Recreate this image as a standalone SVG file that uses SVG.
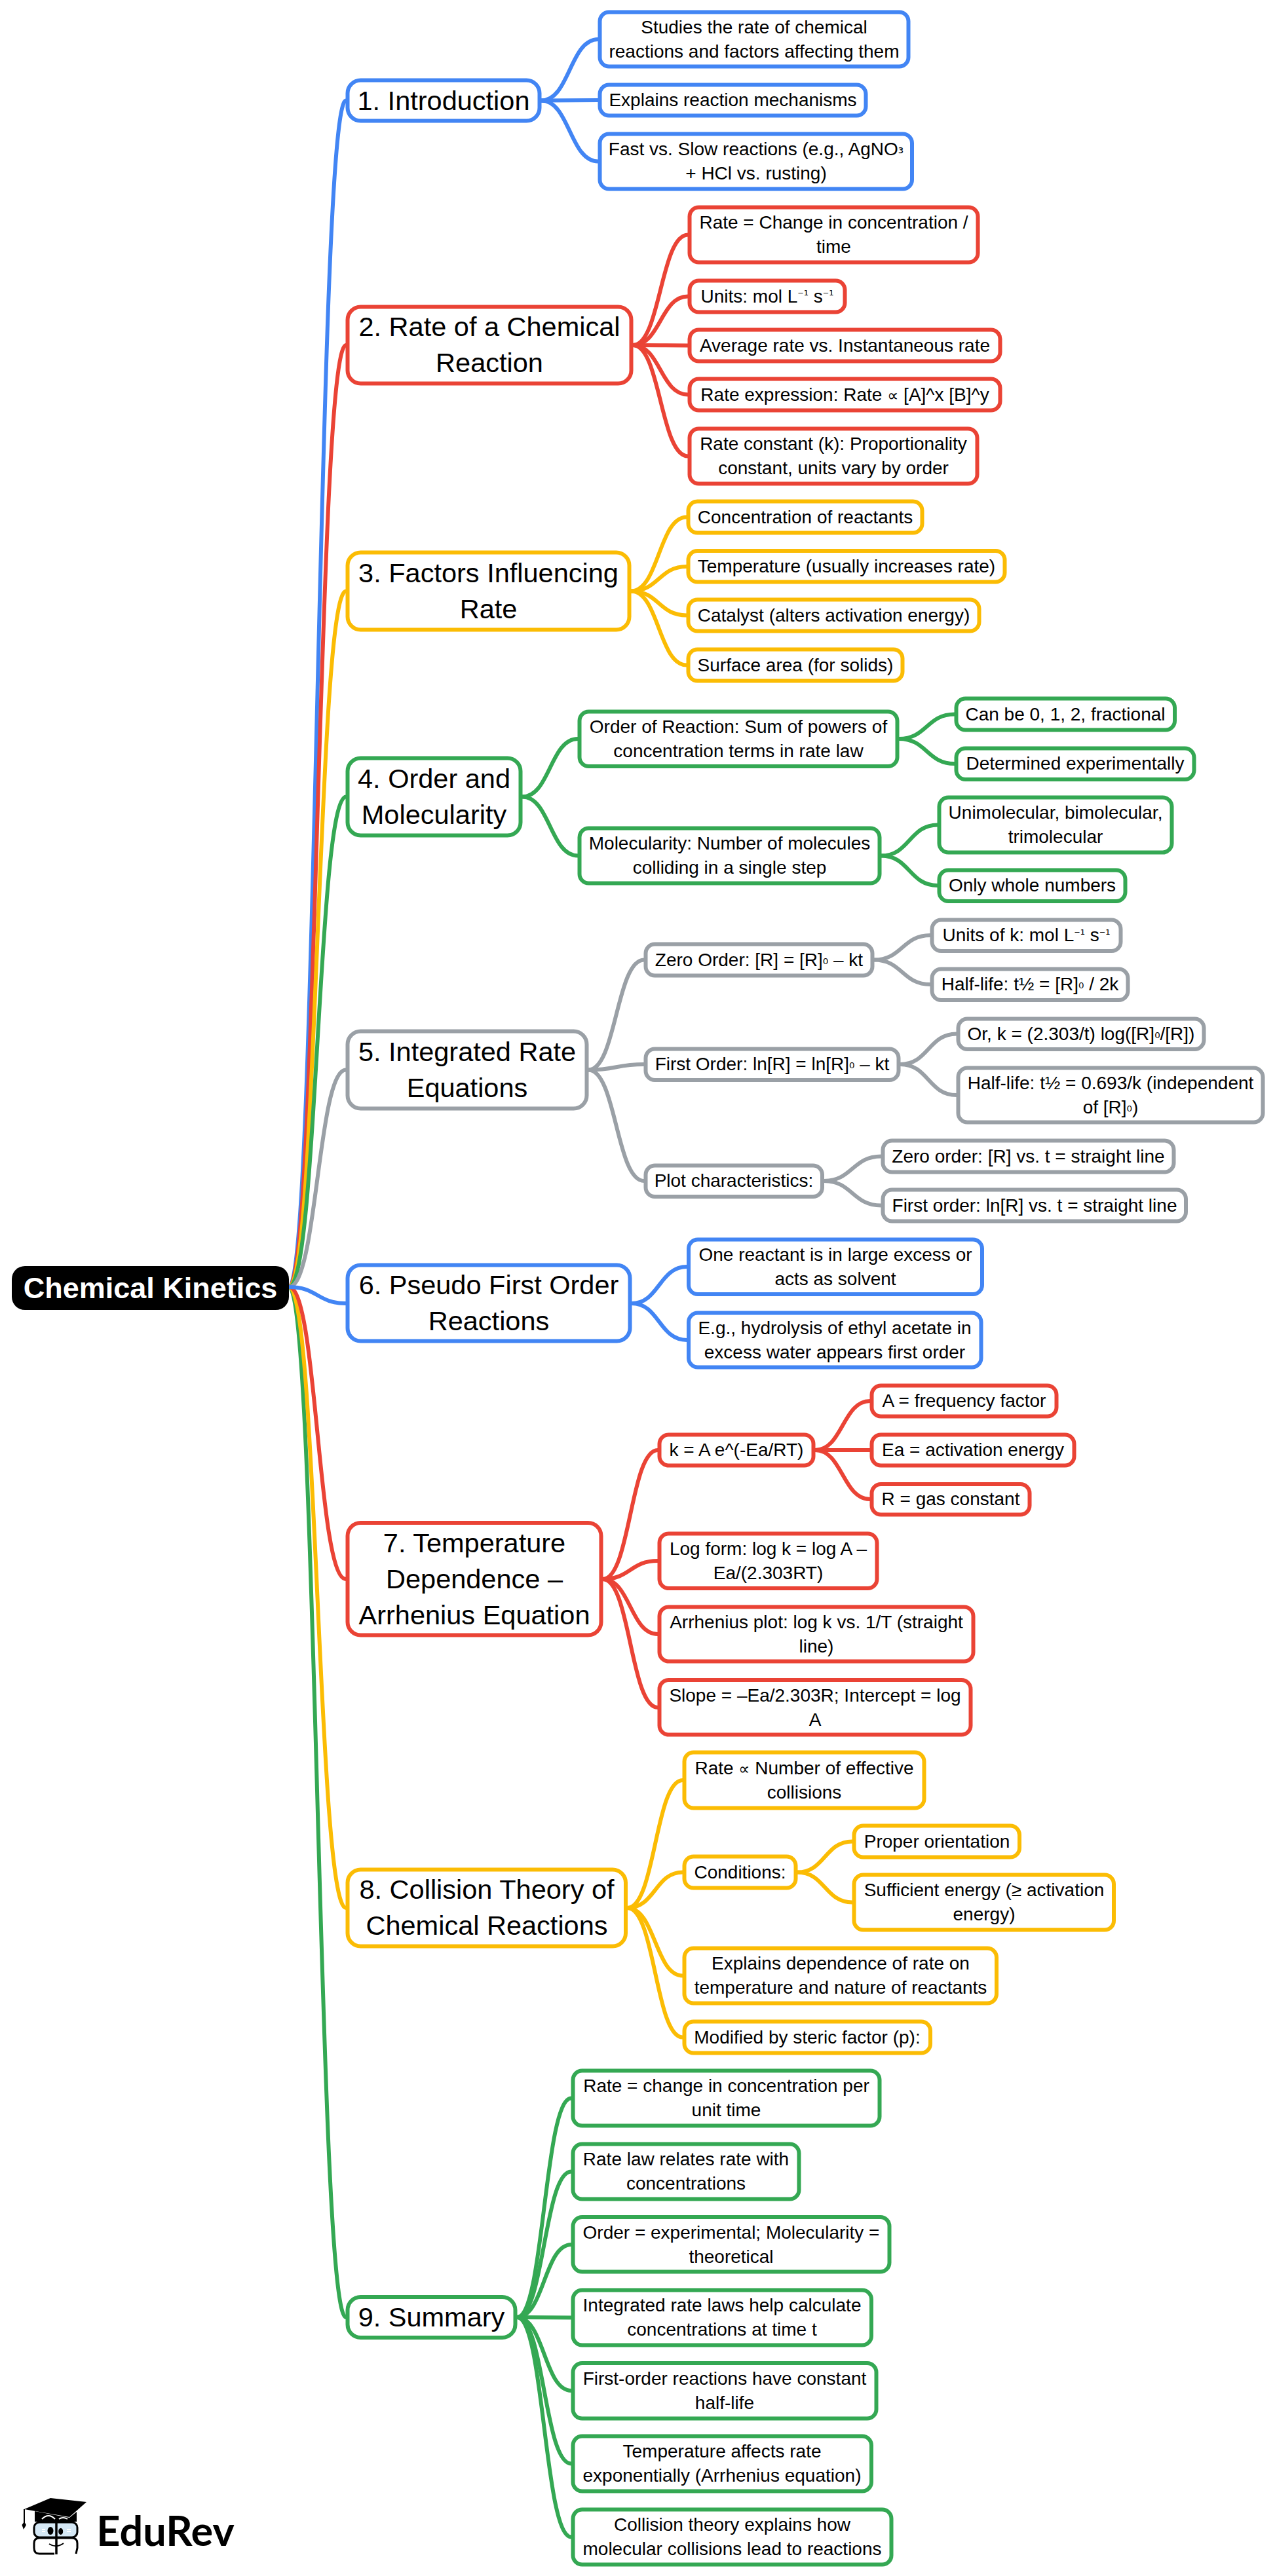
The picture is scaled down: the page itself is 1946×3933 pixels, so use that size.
<svg xmlns="http://www.w3.org/2000/svg" width="1946" height="3933" viewBox="0 0 1946 3933">
<style>
text{font-family:"Liberation Sans",Arial,"DejaVu Sans",sans-serif;fill:#000;text-anchor:middle}
.m{font-size:41.500px}
.s{font-size:28px}
.sp{font-family:"DejaVu Sans",sans-serif;font-size:18px}
.sb{font-family:"DejaVu Sans",sans-serif;font-size:21px}
.pr{font-family:"DejaVu Sans",sans-serif;font-size:24px}
.n rect{fill:#fff;stroke-width:6}
.l path{fill:none;stroke-width:6;stroke-linecap:round}
.blue rect,.blue path{stroke:#4285F4}
.red rect,.red path{stroke:#EA4335}
.yel rect,.yel path{stroke:#FBBC04}
.grn rect,.grn path{stroke:#34A853}
.gry rect,.gry path{stroke:#9AA0A6}
</style>
<g id="connectors" class="l">
<g class="blue"><path d="M441 1965C484.500 1965 484.500 153.500 528 153.500"/></g>
<g class="red"><path d="M441 1965C484.500 1965 484.500 527 528 527"/></g>
<g class="yel"><path d="M441 1965C484.500 1965 484.500 902.500 528 902.500"/></g>
<g class="grn"><path d="M441 1965C484.500 1965 484.500 1216.500 528 1216.500"/></g>
<g class="gry"><path d="M441 1965C484.500 1965 484.500 1633.500 528 1633.500"/></g>
<g class="grn"><path d="M441 1965C484.500 1965 484.500 3538 528 3538"/></g>
<g class="yel"><path d="M441 1965C484.500 1965 484.500 2913 528 2913"/></g>
<g class="red"><path d="M441 1965C484.500 1965 484.500 2411 528 2411"/></g>
<g class="blue"><path d="M441 1965C484.500 1965 484.500 1990 528 1990"/></g>
<g class="blue">
<path d="M826 153.500C869.500 153.500 869.500 60 913 60"/>
<path d="M826 153.500C869.500 153.500 869.500 153 913 153"/>
<path d="M826 153.500C869.500 153.500 869.500 246.500 913 246.500"/>
<path d="M964 1990C1006 1990 1006 1934 1048.500 1934"/>
<path d="M964 1990C1006 1990 1006 2046 1048.500 2046"/>
</g>
<g class="red">
<path d="M966 527C1008 527 1008 358.500 1050 358.500"/>
<path d="M966 527C1008 527 1008 452.500 1050 452.500"/>
<path d="M966 527C1008 527 1008 527.500 1050 527.500"/>
<path d="M966 527C1008 527 1008 602.500 1050 602.500"/>
<path d="M966 527C1008 527 1008 696.500 1050 696.500"/>
<path d="M920 2411C962 2411 962 2214 1004 2214"/>
<path d="M920 2411C962 2411 962 2383 1004 2383"/>
<path d="M920 2411C962 2411 962 2495 1004 2495"/>
<path d="M920 2411C962 2411 962 2607 1004 2607"/>
<path d="M1244 2214C1286 2214 1286 2139 1328 2139"/>
<path d="M1244 2214C1286 2214 1286 2214 1328 2214"/>
<path d="M1244 2214C1286 2214 1286 2289 1328 2289"/>
</g>
<g class="yel">
<path d="M963 902.500C1005.500 902.500 1005.500 789.500 1048 789.500"/>
<path d="M963 902.500C1005.500 902.500 1005.500 865 1048 865"/>
<path d="M963 902.500C1005.500 902.500 1005.500 939.500 1048 939.500"/>
<path d="M963 902.500C1005.500 902.500 1005.500 1015.500 1048 1015.500"/>
<path d="M957.500 2913C1000 2913 1000 2718 1042 2718"/>
<path d="M957.500 2913C1000 2913 1000 2858.500 1042 2858.500"/>
<path d="M957.500 2913C1000 2913 1000 3016.500 1042 3016.500"/>
<path d="M957.500 2913C1000 2913 1000 3110.500 1042 3110.500"/>
<path d="M1217 2858.500C1259 2858.500 1259 2811.500 1301 2811.500"/>
<path d="M1217 2858.500C1259 2858.500 1259 2904.500 1301 2904.500"/>
</g>
<g class="grn">
<path d="M797 1216.500C839.500 1216.500 839.500 1128 882 1128"/>
<path d="M797 1216.500C839.500 1216.500 839.500 1306.500 882 1306.500"/>
<path d="M1372 1128C1414.500 1128 1414.500 1090.500 1457 1090.500"/>
<path d="M1372 1128C1414.500 1128 1414.500 1166 1457 1166"/>
<path d="M1345 1306.500C1388 1306.500 1388 1259.500 1431 1259.500"/>
<path d="M1345 1306.500C1388 1306.500 1388 1352 1431 1352"/>
<path d="M789 3538C830.500 3538 830.500 3203.500 872 3203.500"/>
<path d="M789 3538C830.500 3538 830.500 3315.500 872 3315.500"/>
<path d="M789 3538C830.500 3538 830.500 3427 872 3427"/>
<path d="M789 3538C830.500 3538 830.500 3538.500 872 3538.500"/>
<path d="M789 3538C830.500 3538 830.500 3650 872 3650"/>
<path d="M789 3538C830.500 3538 830.500 3761.500 872 3761.500"/>
<path d="M789 3538C830.500 3538 830.500 3873.500 872 3873.500"/>
</g>
<g class="gry">
<path d="M898 1633.500C940.500 1633.500 940.500 1465.500 983 1465.500"/>
<path d="M898 1633.500C940.500 1633.500 940.500 1625 983 1625"/>
<path d="M898 1633.500C940.500 1633.500 940.500 1803 983 1803"/>
<path d="M1334 1465.500C1377 1465.500 1377 1428 1420 1428"/>
<path d="M1334 1465.500C1377 1465.500 1377 1503 1420 1503"/>
<path d="M1374 1625C1417 1625 1417 1578.500 1460 1578.500"/>
<path d="M1374 1625C1417 1625 1417 1672 1460 1672"/>
<path d="M1257.500 1803C1301 1803 1301 1765.500 1345 1765.500"/>
<path d="M1257.500 1803C1301 1803 1301 1840.500 1345 1840.500"/>
</g>
</g>
<g id="root"><rect x="18" y="1933" width="423" height="67" rx="20" fill="#000"/><text x="229.500" y="1982" font-size="45" font-weight="700" style="fill:#fff">Chemical Kinetics</text></g>
<g id="n1" class="n blue"><rect x="530.500" y="122.500" width="293" height="62" rx="20"/><text class="m" x="677" y="167.500">1. Introduction</text></g>
<g id="n1a" class="n blue"><rect x="915.500" y="18.500" width="471" height="83" rx="14"/><text class="s" x="1151" y="50.500">Studies the rate of chemical</text><text class="s" x="1151" y="87.500">reactions and factors affecting them</text></g>
<g id="n1b" class="n blue"><rect x="915.500" y="129.500" width="406" height="47" rx="14"/><text class="s" x="1118.500" y="162">Explains reaction mechanisms</text></g>
<g id="n1c" class="n blue"><rect x="915.500" y="204.500" width="476.500" height="84" rx="14"/><text class="s" x="1154" y="237">Fast vs. Slow reactions (e.g., AgNO<tspan class="sb" dy="-3">₃</tspan></text><text class="s" x="1154" y="274">+ HCl vs. rusting)</text></g>
<g id="n2" class="n red"><rect x="530.500" y="468.500" width="433" height="117" rx="20"/><text class="m" x="747" y="513">2. Rate of a Chemical</text><text class="m" x="747" y="568">Reaction</text></g>
<g id="n2a" class="n red"><rect x="1052.500" y="316.500" width="440" height="84" rx="14"/><text class="s" x="1272.500" y="349">Rate = Change in concentration /</text><text class="s" x="1272.500" y="386">time</text></g>
<g id="n2b" class="n red"><rect x="1052.500" y="428.500" width="237" height="48" rx="14"/><text class="s" x="1171" y="461.500">Units: mol L<tspan class="sp" dy="-4.500">⁻¹</tspan><tspan dy="4.500"> s</tspan><tspan class="sp" dy="-4.500">⁻¹</tspan></text></g>
<g id="n2c" class="n red"><rect x="1052.500" y="503.500" width="474" height="48" rx="14"/><text class="s" x="1289.500" y="536.500">Average rate vs. Instantaneous rate</text></g>
<g id="n2d" class="n red"><rect x="1052.500" y="578.500" width="474" height="48" rx="14"/><text class="s" x="1289.500" y="611.500">Rate expression: Rate <tspan class="pr">∝</tspan> [A]^x [B]^y</text></g>
<g id="n2e" class="n red"><rect x="1052.500" y="654.500" width="439" height="84" rx="14"/><text class="s" x="1272" y="687">Rate constant (k): Proportionality</text><text class="s" x="1272" y="724">constant, units vary by order</text></g>
<g id="n3" class="n yel"><rect x="530.500" y="843.500" width="430" height="118" rx="20"/><text class="m" x="745.500" y="888.500">3. Factors Influencing</text><text class="m" x="745.500" y="943.500">Rate</text></g>
<g id="n3a" class="n yel"><rect x="1050.500" y="765.500" width="357" height="48" rx="14"/><text class="s" x="1229" y="798.500">Concentration of reactants</text></g>
<g id="n3b" class="n yel"><rect x="1050.500" y="841" width="483" height="47.500" rx="14"/><text class="s" x="1292" y="874">Temperature (usually increases rate)</text></g>
<g id="n3c" class="n yel"><rect x="1050.500" y="915.500" width="444" height="48" rx="14"/><text class="s" x="1272.500" y="948.500">Catalyst (alters activation energy)</text></g>
<g id="n3d" class="n yel"><rect x="1050.500" y="991.500" width="327" height="48" rx="14"/><text class="s" x="1214" y="1024.500">Surface area (for solids)</text></g>
<g id="n4" class="n grn"><rect x="530.500" y="1157.500" width="264" height="118" rx="20"/><text class="m" x="662.500" y="1202.500">4. Order and</text><text class="m" x="662.500" y="1257.500">Molecularity</text></g>
<g id="n4a" class="n grn"><rect x="884.500" y="1086.500" width="485" height="83.500" rx="14"/><text class="s" x="1127" y="1118.500">Order of Reaction: Sum of powers of</text><text class="s" x="1127" y="1155.500">concentration terms in rate law</text></g>
<g id="n4b" class="n grn"><rect x="884.500" y="1264.500" width="458" height="84" rx="14"/><text class="s" x="1113.500" y="1297">Molecularity: Number of molecules</text><text class="s" x="1113.500" y="1334">colliding in a single step</text></g>
<g id="n4c" class="n grn"><rect x="1459.500" y="1066.500" width="333.500" height="48" rx="14"/><text class="s" x="1626" y="1099.500">Can be 0, 1, 2, fractional</text></g>
<g id="n4d" class="n grn"><rect x="1459.500" y="1142.500" width="363" height="47.500" rx="14"/><text class="s" x="1641" y="1175">Determined experimentally</text></g>
<g id="n4e" class="n grn"><rect x="1433.500" y="1217.500" width="355" height="84" rx="14"/><text class="s" x="1611" y="1250">Unimolecular, bimolecular,</text><text class="s" x="1611" y="1287">trimolecular</text></g>
<g id="n4f" class="n grn"><rect x="1433.500" y="1328.500" width="284" height="47.500" rx="14"/><text class="s" x="1575.500" y="1361">Only whole numbers</text></g>
<g id="n5" class="n gry"><rect x="530.500" y="1574.500" width="365" height="118" rx="20"/><text class="m" x="713" y="1619.500">5. Integrated Rate</text><text class="m" x="713" y="1674.500">Equations</text></g>
<g id="n5a" class="n gry"><rect x="985.500" y="1441.500" width="346" height="48" rx="14"/><text class="s" x="1158.500" y="1474.500">Zero Order: [R] = [R]<tspan class="sb" dy="-3">₀</tspan><tspan dy="3"> – kt</tspan></text></g>
<g id="n5b" class="n gry"><rect x="985.500" y="1601.500" width="386" height="47.500" rx="14"/><text class="s" x="1178.500" y="1634">First Order: ln[R] = ln[R]<tspan class="sb" dy="-3">₀</tspan><tspan dy="3"> – kt</tspan></text></g>
<g id="n5c" class="n gry"><rect x="985.500" y="1779.500" width="269.500" height="47.500" rx="14"/><text class="s" x="1120" y="1812">Plot characteristics:</text></g>
<g id="n5d" class="n gry"><rect x="1422.500" y="1404.500" width="288" height="47.500" rx="14"/><text class="s" x="1566.500" y="1437">Units of k: mol L<tspan class="sp" dy="-4.500">⁻¹</tspan><tspan dy="4.500"> s</tspan><tspan class="sp" dy="-4.500">⁻¹</tspan></text></g>
<g id="n5e" class="n gry"><rect x="1422.500" y="1479.500" width="299" height="47.500" rx="14"/><text class="s" x="1572" y="1512">Half-life: t½ = [R]<tspan class="sb" dy="-3">₀</tspan><tspan dy="3"> / 2k</tspan></text></g>
<g id="n5f" class="n gry"><rect x="1462.500" y="1555.500" width="375" height="46.500" rx="14"/><text class="s" x="1650" y="1587.500">Or, k = (2.303/t) log([R]<tspan class="sb" dy="-3">₀</tspan><tspan dy="3">/[R])</tspan></text></g>
<g id="n5g" class="n gry"><rect x="1462.500" y="1630.500" width="465" height="83" rx="14"/><text class="s" x="1695" y="1662.500">Half-life: t½ = 0.693/k (independent</text><text class="s" x="1695" y="1699.500">of [R]<tspan class="sb" dy="-3">₀</tspan><tspan dy="3">)</tspan></text></g>
<g id="n5h" class="n gry"><rect x="1347.500" y="1741.500" width="444" height="48" rx="14"/><text class="s" x="1569.500" y="1774.500">Zero order: [R] vs. t = straight line</text></g>
<g id="n5i" class="n gry"><rect x="1347.500" y="1816.500" width="462.500" height="48" rx="14"/><text class="s" x="1579" y="1849.500">First order: ln[R] vs. t = straight line</text></g>
<g id="n6" class="n blue"><rect x="530.500" y="1931.500" width="431" height="116" rx="20"/><text class="m" x="746" y="1976">6. Pseudo First Order</text><text class="m" x="746" y="2031">Reactions</text></g>
<g id="n6a" class="n blue"><rect x="1051" y="1892.500" width="448" height="83.500" rx="14"/><text class="s" x="1275" y="1924.500">One reactant is in large excess or</text><text class="s" x="1275" y="1961.500">acts as solvent</text></g>
<g id="n6b" class="n blue"><rect x="1051" y="2004.500" width="446.500" height="83" rx="14"/><text class="s" x="1274" y="2036.500">E.g., hydrolysis of ethyl acetate in</text><text class="s" x="1274" y="2073.500">excess water appears first order</text></g>
<g id="n7" class="n red"><rect x="530.500" y="2325" width="387" height="171.500" rx="20"/><text class="m" x="724" y="2370">7. Temperature</text><text class="m" x="724" y="2425">Dependence –</text><text class="m" x="724" y="2480">Arrhenius Equation</text></g>
<g id="n7a" class="n red"><rect x="1006.500" y="2190.500" width="235" height="47" rx="14"/><text class="s" x="1124" y="2223">k = A e^(-Ea/RT)</text></g>
<g id="n7b" class="n red"><rect x="1330.500" y="2115.500" width="282" height="47" rx="14"/><text class="s" x="1471.500" y="2148">A = frequency factor</text></g>
<g id="n7c" class="n red"><rect x="1330.500" y="2190.500" width="309" height="47" rx="14"/><text class="s" x="1485" y="2223">Ea = activation energy</text></g>
<g id="n7d" class="n red"><rect x="1330.500" y="2266" width="241" height="46.500" rx="14"/><text class="s" x="1451" y="2298">R = gas constant</text></g>
<g id="n7e" class="n red"><rect x="1006.500" y="2341.500" width="332" height="83.500" rx="14"/><text class="s" x="1172.500" y="2373.500">Log form: log k = log A –</text><text class="s" x="1172.500" y="2410.500">Ea/(2.303RT)</text></g>
<g id="n7f" class="n red"><rect x="1006.500" y="2453.500" width="479" height="83" rx="14"/><text class="s" x="1246" y="2485.500">Arrhenius plot: log k vs. 1/T (straight</text><text class="s" x="1246" y="2522.500">line)</text></g>
<g id="n7g" class="n red"><rect x="1006.500" y="2565" width="475" height="83.500" rx="14"/><text class="s" x="1244" y="2597.500">Slope = –Ea/2.303R; Intercept = log</text><text class="s" x="1244" y="2634.500">A</text></g>
<g id="n8" class="n yel"><rect x="530.500" y="2854.500" width="424.500" height="117" rx="20"/><text class="m" x="743" y="2899">8. Collision Theory of</text><text class="m" x="743" y="2954">Chemical Reactions</text></g>
<g id="n8a" class="n yel"><rect x="1044.500" y="2675.500" width="366" height="85" rx="14"/><text class="s" x="1227.500" y="2708.500">Rate <tspan class="pr">∝</tspan> Number of effective</text><text class="s" x="1227.500" y="2745.500">collisions</text></g>
<g id="n8b" class="n yel"><rect x="1044.500" y="2834.500" width="170" height="48" rx="14"/><text class="s" x="1129.500" y="2867.500">Conditions:</text></g>
<g id="n8c" class="n yel"><rect x="1303.500" y="2787.500" width="252.500" height="48" rx="14"/><text class="s" x="1430" y="2820.500">Proper orientation</text></g>
<g id="n8d" class="n yel"><rect x="1303.500" y="2862.500" width="396.500" height="84" rx="14"/><text class="s" x="1502" y="2895">Sufficient energy (≥ activation</text><text class="s" x="1502" y="2932">energy)</text></g>
<g id="n8e" class="n yel"><rect x="1044.500" y="2974.500" width="476.500" height="84" rx="14"/><text class="s" x="1283" y="3007">Explains dependence of rate on</text><text class="s" x="1283" y="3044">temperature and nature of reactants</text></g>
<g id="n8f" class="n yel"><rect x="1044.500" y="3086.500" width="375.500" height="48" rx="14"/><text class="s" x="1232" y="3119.500">Modified by steric factor (p):</text></g>
<g id="n9" class="n grn"><rect x="530.500" y="3507" width="256" height="62" rx="20"/><text class="m" x="658.500" y="3552">9. Summary</text></g>
<g id="n9a" class="n grn"><rect x="874.500" y="3161.500" width="468" height="84" rx="14"/><text class="s" x="1108.500" y="3194">Rate = change in concentration per</text><text class="s" x="1108.500" y="3231">unit time</text></g>
<g id="n9b" class="n grn"><rect x="874.500" y="3273.500" width="345" height="84" rx="14"/><text class="s" x="1047" y="3306">Rate law relates rate with</text><text class="s" x="1047" y="3343">concentrations</text></g>
<g id="n9c" class="n grn"><rect x="874.500" y="3385" width="483" height="83.500" rx="14"/><text class="s" x="1116" y="3417.500">Order = experimental; Molecularity =</text><text class="s" x="1116" y="3454.500">theoretical</text></g>
<g id="n9d" class="n grn"><rect x="874.500" y="3496.500" width="455.500" height="84" rx="14"/><text class="s" x="1102" y="3529">Integrated rate laws help calculate</text><text class="s" x="1102" y="3566">concentrations at time t</text></g>
<g id="n9e" class="n grn"><rect x="874.500" y="3608" width="463" height="84.500" rx="14"/><text class="s" x="1106" y="3640.500">First-order reactions have constant</text><text class="s" x="1106" y="3677.500">half-life</text></g>
<g id="n9f" class="n grn"><rect x="874.500" y="3719.500" width="455.500" height="84" rx="14"/><text class="s" x="1102" y="3752">Temperature affects rate</text><text class="s" x="1102" y="3789">exponentially (Arrhenius equation)</text></g>
<g id="n9g" class="n grn"><rect x="874.500" y="3831.500" width="486" height="84" rx="14"/><text class="s" x="1117.500" y="3864">Collision theory explains how</text><text class="s" x="1117.500" y="3901">molecular collisions lead to reactions</text></g>
<g id="logo">
<path d="M53 3834V3850H117V3835L106 3844Z" fill="#000"/>
<path d="M37 3831L77 3814L132 3820L106 3843Z" fill="#000"/>
<path d="M37 3831V3852" fill="none" stroke="#000" stroke-width="2"/>
<path d="M33.500 3855L37 3850L40 3855L36 3862Z" fill="#000"/>
<path d="M64 3846Q74 3836 84 3846M90 3846Q96 3842 103 3846" fill="none" stroke="#fff" stroke-width="2"/>
<rect x="52" y="3851" width="66" height="23" rx="8" fill="#d5e8f5" stroke="#000" stroke-width="3"/>
<path d="M83 3899H60Q52 3899 52 3890V3883Q52 3875 60 3875H110Q118 3875 118 3883V3890L116 3899" fill="none" stroke="#000" stroke-width="3"/>
<path d="M86 3848V3900" stroke="#000" stroke-width="3.500" fill="none"/>
<ellipse cx="77" cy="3864" rx="4.500" ry="6" fill="#000"/>
<ellipse cx="92.700" cy="3865" rx="3.500" ry="5" fill="#000"/>
<path d="M75 3884Q86 3891 97 3883" fill="none" stroke="#000" stroke-width="2"/>
<path d="M64 3862h5M64 3865h5M102 3862h6M102 3865h6" stroke="#fff" stroke-width="2" fill="none"/>
<text x="252.500" y="3887" font-size="63" font-weight="700" style="font-family:Lato,'Liberation Sans',sans-serif">EduRev</text>
</g>
</svg>
